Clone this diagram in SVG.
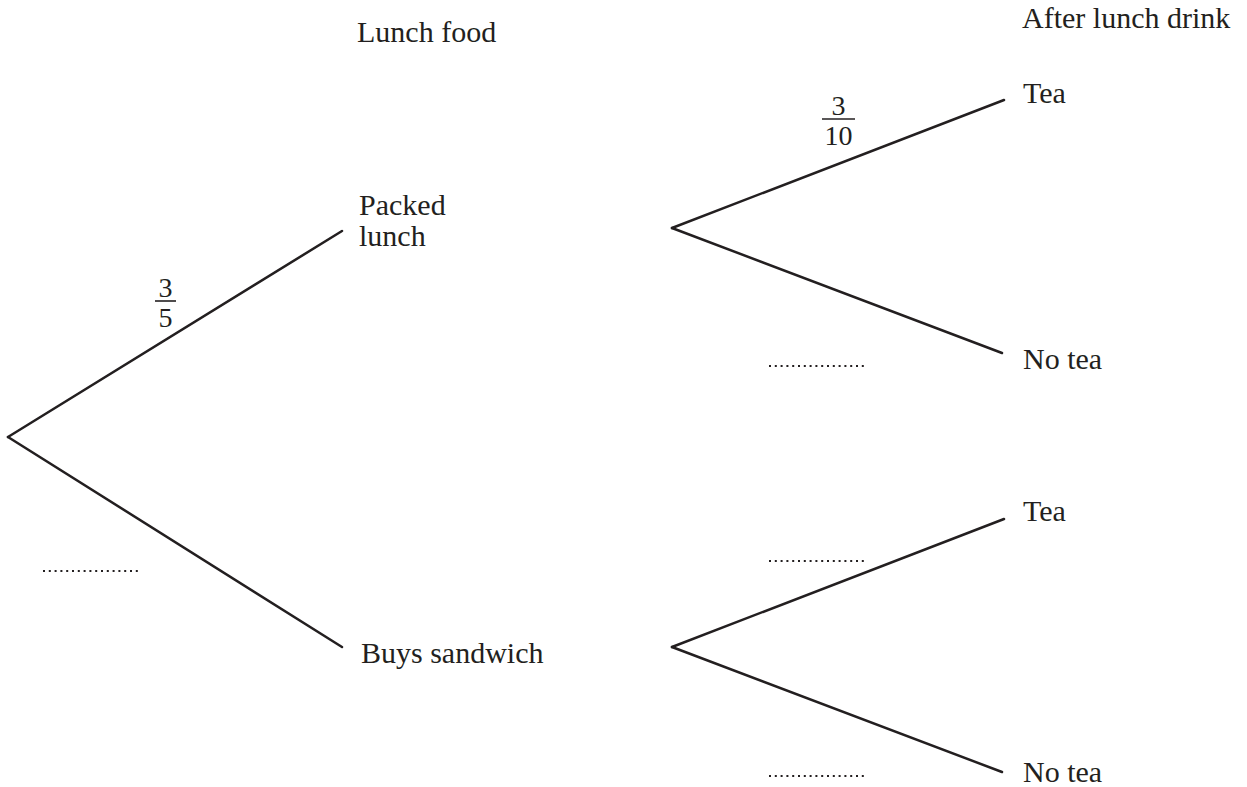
<svg xmlns="http://www.w3.org/2000/svg" width="1247" height="787" viewBox="0 0 1247 787">
<style>
.t{font-family:'Liberation Serif','Times New Roman',Times,serif;font-size:30px;fill:#231f20}
.f{font-size:28px}
.br{stroke:#231f20;stroke-width:2.5;fill:none;stroke-linecap:round}
.dot{stroke:#231f20;stroke-width:2;stroke-dasharray:2 3.8;fill:none}
.bar{stroke:#231f20;stroke-width:1.6}
</style>
<rect width="1247" height="787" fill="#fff"/>
<g id="headers" class="t">
<text x="357" y="42">Lunch food</text>
<text x="1022" y="28">After lunch drink</text>
</g>
<g id="connectors">
<path class="br" d="M8,437 L342,231"/>
<path class="br" d="M8,437 L342,647"/>
<path class="br" d="M672,228 L1004,100"/>
<path class="br" d="M672,228 L1002,353"/>
<path class="br" d="M672,647 L1004,519"/>
<path class="br" d="M672,647 L1002,772"/>
</g>
<g id="node-packed" class="t"><text x="359" y="215">Packed</text><text x="359" y="246">lunch</text></g>
<g id="node-sandwich" class="t"><text x="361" y="663">Buys sandwich</text></g>
<g id="node-tea1" class="t"><text x="1023" y="103">Tea</text></g>
<g id="node-notea1" class="t"><text x="1023" y="369">No tea</text></g>
<g id="node-tea2" class="t"><text x="1023" y="521">Tea</text></g>
<g id="node-notea2" class="t"><text x="1023" y="782">No tea</text></g>
<g id="prob-3-5" class="t f">
<text x="165.5" y="297" text-anchor="middle">3</text>
<line class="bar" x1="155" y1="301" x2="176" y2="301"/>
<text x="165.5" y="327" text-anchor="middle">5</text>
</g>
<g id="prob-3-10" class="t f">
<text x="838.5" y="115" text-anchor="middle">3</text>
<line class="bar" x1="822" y1="119" x2="855" y2="119"/>
<text x="838.5" y="145" text-anchor="middle">10</text>
</g>
<g id="blanks">
<line class="dot" x1="43" y1="571" x2="138" y2="571"/>
<line class="dot" x1="769" y1="366" x2="864" y2="366"/>
<line class="dot" x1="769" y1="561" x2="864" y2="561"/>
<line class="dot" x1="769" y1="776" x2="864" y2="776"/>
</g>
</svg>
